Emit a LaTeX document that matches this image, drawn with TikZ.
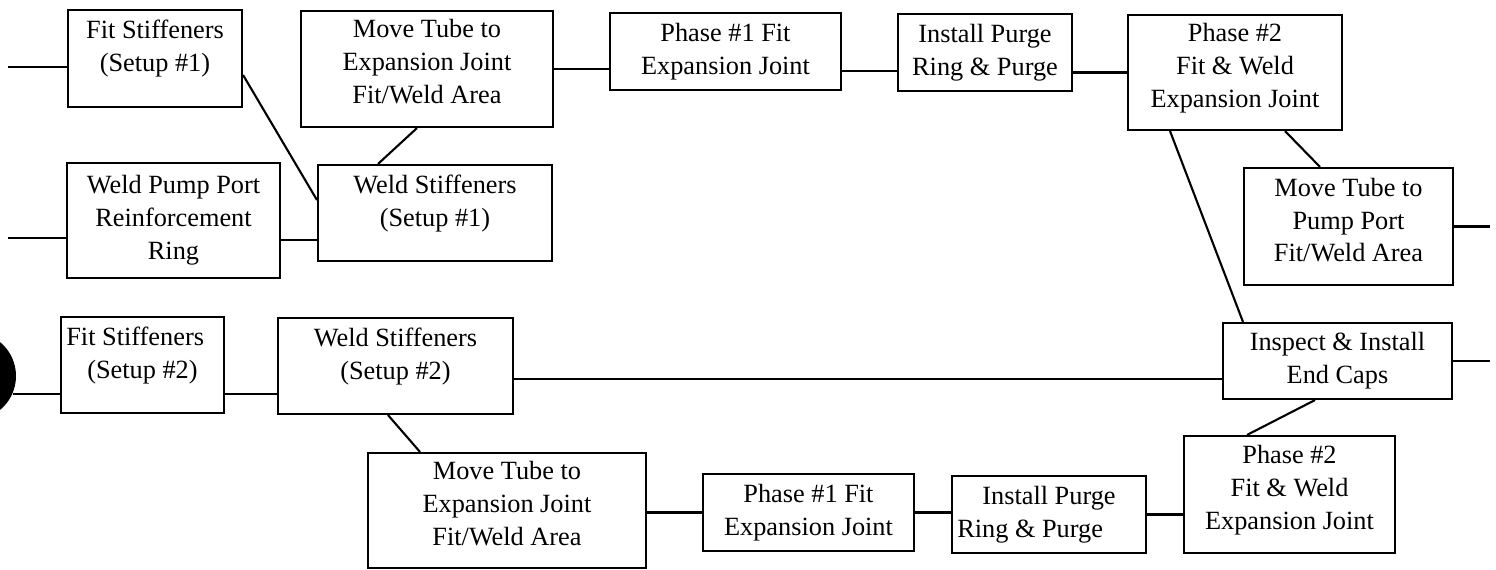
\documentclass[tikz,border=0pt]{standalone}
\usepackage{fontspec}
\setmainfont{Liberation Serif}
\usepackage{tikz}
\usetikzlibrary{calc}
\newlength{\pxl}
\setlength{\pxl}{0.38pt}
\newcommand{\lift}[1]{\rule[-#1]{0pt}{#1}}

\begin{document}
\begin{tikzpicture}[x=0.38pt, y=-0.38pt, line width=0.8pt,
  stage/.style={draw, align=center, inner sep=2pt, font=\fontsize{10}{12.5}\selectfont},
  boxsize/.style 2 args={minimum width=#1*\pxl, minimum height=#2*\pxl}]
  \useasboundingbox (0,0) rectangle (1496,570);
  \coordinate (l1) at (8,67);
  \coordinate (l2) at (8,238);
  \coordinate (r1) at (1490,226.5);
  \coordinate (r2) at (1490,361);
  \node[stage, boxsize={174}{97}] (fs1) at (155,58.5) {Fit Stiffeners\\(Setup \#1)\lift{10pt}};
  \node[stage, boxsize={252}{116}] (mt1) at (427,69) {Move Tube to\\Expansion Joint\\Fit/Weld Area\lift{5.5pt}};
  \node[stage, boxsize={213}{115}] (wp) at (173.5,220.5) {Weld Pump Port\\Reinforcement\\Ring};
  \node[stage, boxsize={234}{96}] (ws1) at (435,213) {Weld Stiffeners\\(Setup \#1)\lift{9pt}};
  \node[stage, boxsize={231}{77}] (p1a) at (725.5,51.5) {Phase \#1 Fit\\Expansion Joint};
  \node[stage, boxsize={174}{77}] (ip1) at (985,52.5) {Install Purge\\Ring \& Purge};
  \node[stage, boxsize={214}{115}] (p2a) at (1235,72.5) {Phase \#2\\Fit \& Weld\\Expansion Joint\lift{5.5pt}};
  \node[stage, boxsize={209}{117}] (mtp) at (1348.5,226.5) {Move Tube to\\Pump Port\\Fit/Weld Area\lift{5pt}};
  \node[stage, boxsize={229}{76}] (ic) at (1337.5,361) {Inspect \& Install\\End Caps};
  \node[circle, fill, inner sep=0pt, minimum size=88*\pxl] (blob) at (-28,376) {};
  \node[stage, boxsize={163}{96}, text width=57.9pt, align=flush center] (fs2) at (142.5,365) {Fit Stiffeners\hfill\mbox{}\\(Setup \#2)\lift{9pt}};
  \node[stage, boxsize={235}{96}] (ws2) at (395.5,366) {Weld Stiffeners\\(Setup \#2)\lift{9pt}};
  \node[stage, boxsize={278}{115}] (mt2) at (507,510.5) {Move Tube to\\Expansion Joint\\Fit/Weld Area\lift{5.5pt}};
  \node[stage, boxsize={211}{77}] (p1b) at (808.5,512.5) {Phase \#1 Fit\\Expansion Joint};
  \node[stage, boxsize={194}{77}, text width=69.7pt, align=flush center] (ip2) at (1049,514.5) {Install Purge\\Ring \& Purge\hfill\mbox{}};
  \node[stage, boxsize={211}{117}] (p2b) at (1289.5,494.5) {Phase \#2\\Fit \& Weld\\Expansion Joint\lift{5.5pt}};

  \draw (l1) -- (l1 -| fs1.west);
  \draw (l2) -- (l2 -| wp.west);
  \draw (fs1.east |- 0,75) -- (ws1.west |- 0,200);
  \draw (mt1.south -| 417,0) -- (ws1.north -| 378,0);
  \draw (wp.east |- 0,240) -- (ws1.west |- 0,240);
  \draw (mt1.east) -- (mt1.east -| p1a.west);
  \draw (p1a.east |- 0,71) -- (ip1.west |- 0,71);
  \draw (p2a.west -| ip1.east) -- (p2a.west);
  \draw (p2a.south -| 1170,0) -- (ic.north -| 1243,0);
  \draw (p2a.south -| 1285,0) -- (mtp.north -| 1320,0);
  \draw (mtp.east) -- (mtp.east -| r1);
  \draw (ic.east) -- (ic.east -| r2);
  \draw (blob.-23) -- (blob.-23 -| fs2.west);
  \draw (fs2.east |- 0,394) -- (ws2.west |- 0,394);
  \draw (ws2.east |- 0,379) -- (ic.west |- 0,379);
  \draw (ws2.south -| 388,0) -- (mt2.north -| 420,0);
  \draw (p1b.west -| mt2.east) -- (p1b.west);
  \draw (p1b.east) -- (p1b.east -| ip2.west);
  \draw (ip2.east) -- (ip2.east -| p2b.west);
  \draw (ic.south -| 1315,0) -- (p2b.north -| 1247,0);
\end{tikzpicture}
\end{document}
